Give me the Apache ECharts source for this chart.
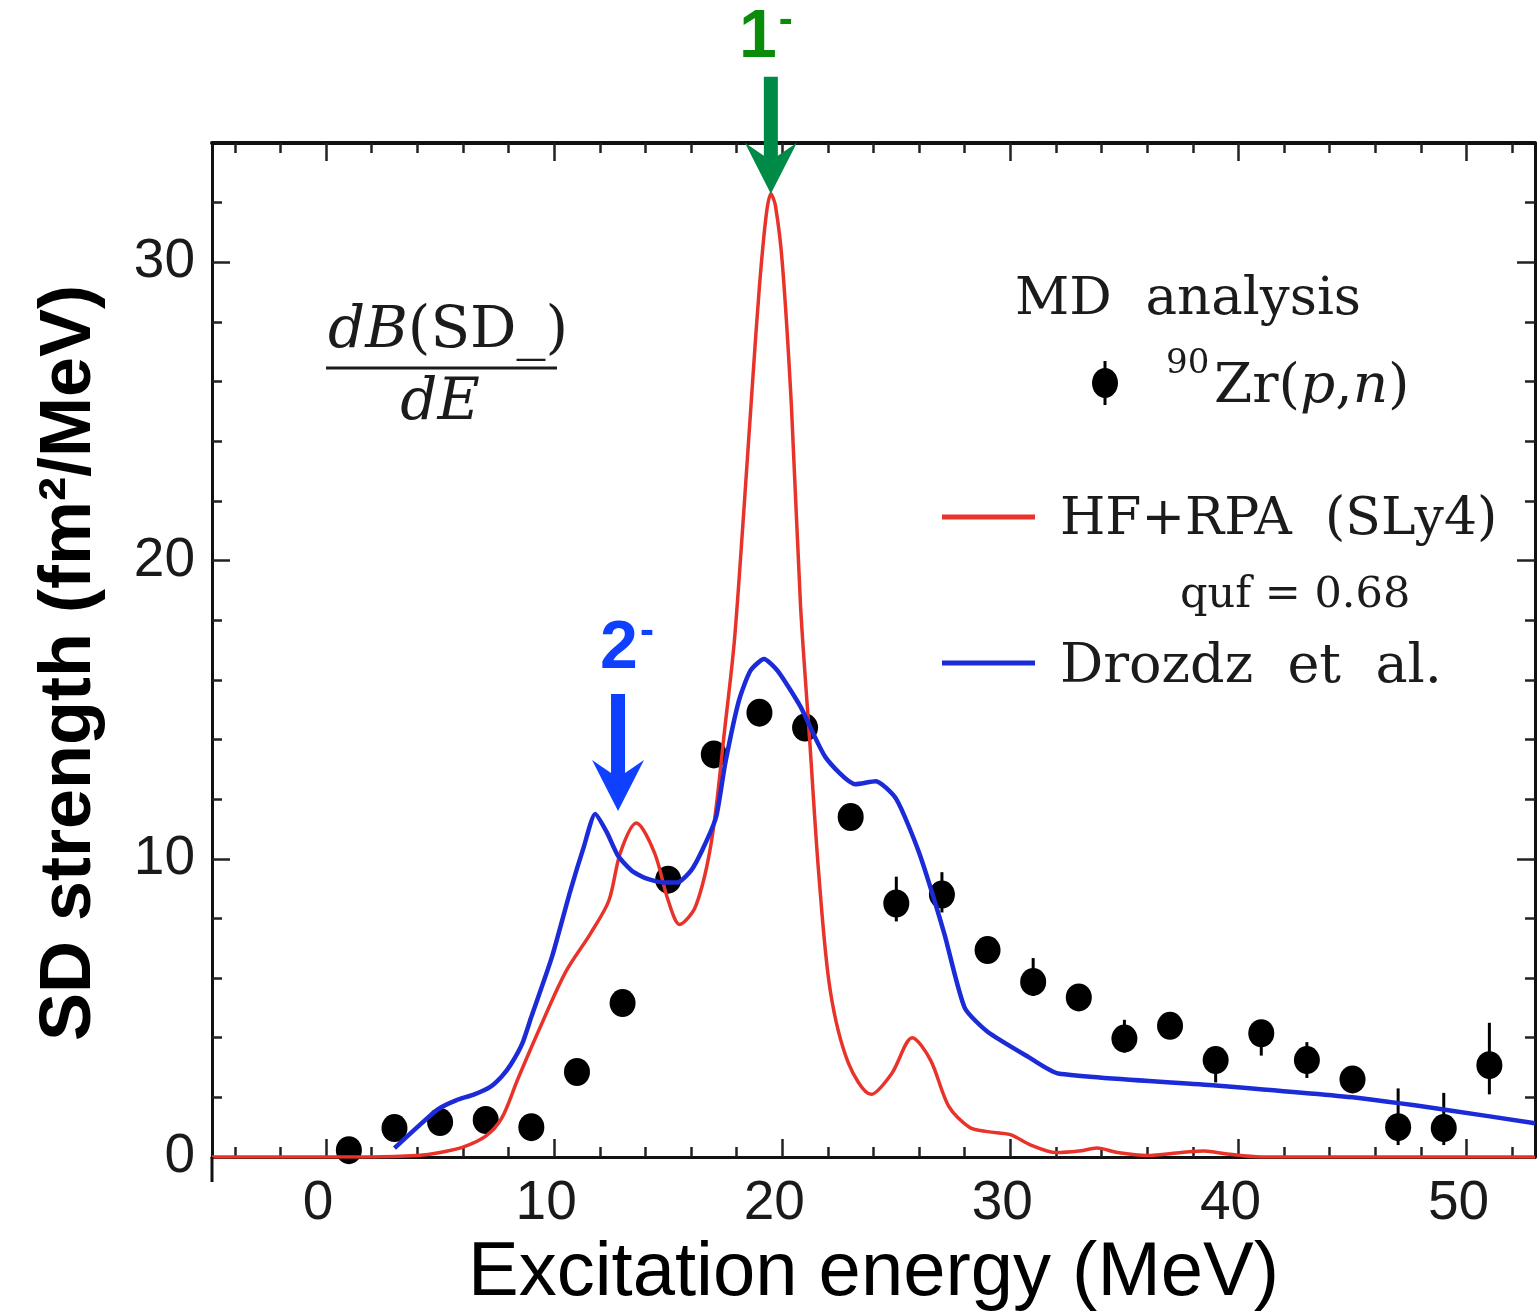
<!DOCTYPE html>
<html>
<head>
<meta charset="utf-8">
<title>Spin-dipole strength of 90Zr(p,n)</title>
<script src="https://cdn.jsdelivr.net/npm/echarts@6/dist/echarts.min.js"></script>
<style>
  html, body { margin: 0; padding: 0; background: #ffffff; }
  #chart { width: 1537px; height: 1312px; }
</style>
</head>
<body>
<div id="chart"></div>
<script>
// ---- Experimental 90Zr(p,n) multipole-decomposition points ----
const expEnergy   = [1, 3, 5, 7, 9, 11, 13, 15, 17, 19, 21, 23, 25, 27, 29, 31, 33, 35, 37, 39, 41, 43, 45, 47, 49, 51];
const expStrength = [0.23, 0.97, 1.17, 1.24, 1.0, 2.85, 5.16, 9.3, 13.5, 14.9, 14.4, 11.4, 8.5, 8.8, 6.94, 5.87, 5.35, 3.97, 4.4, 3.25, 4.15, 3.25, 2.6, 1.0, 0.97, 3.08];
const expErrLow   = [0.05, 0.7, 0.9, 1.0, 0.75, 2.6, 4.9, 9.0, 13.2, 14.6, 14.1, 11.1, 7.9, 8.2, 6.6, 5.4, 5.0, 3.5, 4.0, 2.5, 3.4, 2.65, 2.25, 0.4, 0.4, 2.1];
const expErrHigh  = [0.4, 1.2, 1.4, 1.5, 1.25, 3.1, 5.4, 9.6, 13.8, 15.2, 14.7, 11.7, 9.4, 9.55, 7.3, 6.67, 5.7, 4.6, 4.8, 3.6, 4.5, 3.85, 2.95, 2.3, 2.15, 4.5];

// ---- HF+RPA (SLy4) strength, quenched with quf = 0.68 ----
const rpaEnergy   = [-5, 2, 4, 5, 6, 7, 7.7, 8.4, 9.3, 10.5, 11.6, 12.4, 12.9, 13.6, 14.4, 15.0, 15.5, 16.2, 16.9, 17.5, 17.9, 18.3, 18.7, 19.0, 19.3, 19.5, 19.7, 20.0, 20.4, 20.8, 21.2, 21.6, 22.1, 22.9, 23.9, 24.8, 25.7, 26.5, 27.3, 28.2, 29.0, 30.0, 30.9, 32.0, 33.0, 33.8, 34.7, 36.0, 37.5, 38.5, 39.5, 41, 53];
const rpaStrength = [0, 0, 0.05, 0.15, 0.33, 0.7, 1.3, 2.6, 4.2, 6.2, 7.5, 8.6, 10.2, 11.2, 10.2, 8.6, 7.8, 8.4, 10.6, 14.5, 17.3, 21.5, 26.0, 29.2, 31.6, 32.3, 31.9, 30.0, 25.2, 18.5, 14.0, 9.5, 5.6, 3.15, 2.1, 2.8, 4.0, 3.25, 1.7, 1.0, 0.85, 0.75, 0.4, 0.15, 0.2, 0.3, 0.15, 0.05, 0.15, 0.2, 0.1, 0, 0];

// ---- Drozdz et al. strength ----
const drozdzEnergy   = [3.0, 4.0, 4.9, 5.7, 6.5, 7.2, 7.7, 8.1, 8.6, 9.0, 9.9, 10.7, 11.3, 11.8, 12.3, 12.8, 13.4, 14.0, 14.8, 15.4, 16.0, 16.5, 17.1, 17.5, 18.1, 18.6, 19.2, 19.8, 20.8, 21.9, 23.2, 24.1, 25.0, 26.0, 27.1, 28.0, 29.0, 30.8, 32.1, 39.0, 45.0, 49.2, 53.0];
const drozdzStrength = [0.3, 1.0, 1.6, 1.9, 2.1, 2.35, 2.7, 3.1, 3.8, 4.7, 6.7, 8.9, 10.4, 11.5, 10.9, 10.1, 9.6, 9.35, 9.2, 9.2, 9.6, 10.3, 11.4, 13.2, 15.3, 16.3, 16.7, 16.3, 15.1, 13.4, 12.5, 12.6, 12.0, 10.2, 7.5, 5.0, 4.2, 3.35, 2.8, 2.4, 2.0, 1.57, 1.13];

// ---- Axis ticks ----
const xMajorTicks = [0, 10, 20, 30, 40, 50];
const xMinorTicks = [-4, -2, 2, 4, 6, 8, 12, 14, 16, 18, 22, 24, 26, 28, 32, 34, 36, 38, 42, 44, 46, 48, 52];
const yMajorTicks = [0, 10, 20, 30];
const yMinorTicks = [2, 4, 6, 8, 12, 14, 16, 18, 22, 24, 26, 28, 32];

// ---- Multipole peak markers: J-pi label, energy (MeV), strength at arrow tip ----
const peakLabels   = ['1', '2'];
const peakEnergy   = [19.5, 12.8];
const peakStrength = [32.3, 11.6];

const X_MIN = -5, X_MAX = 53, Y_MIN = 0, Y_MAX = 34;

const INK = '#1b1b1b';
const RED = '#e8332a';
const BLUE = '#1c2bd8';
const peakTextColors  = ['#0a8c0a', '#1040ff'];
const peakArrowColors = ['#008a48', '#1040ff'];

const serif = 'DejaVu Serif';
const sans = 'Liberation Sans';

function xAxisDef(position, ticks, tickLen, lineWidth, withLabels) {
  return {
    type: 'value', position: position, min: X_MIN, max: X_MAX,
    axisLine: { show: true, onZero: false, lineStyle: { color: '#111', width: lineWidth, opacity: lineWidth > 0 ? 1 : 0 } },
    axisTick: { show: true, inside: true, length: tickLen, customValues: ticks, lineStyle: { color: '#222', width: 2.5 } },
    axisLabel: withLabels
      ? { show: true, customValues: ticks, margin: 19, padding: [0, 16, 0, 0], fontFamily: sans, fontSize: 55, color: '#1a1a1a' }
      : { show: false },
    splitLine: { show: false }, minorTick: { show: false }
  };
}
function yAxisDef(position, ticks, tickLen, lineWidth, withLabels) {
  return {
    type: 'value', position: position, min: Y_MIN, max: Y_MAX,
    axisLine: { show: true, onZero: false, lineStyle: { color: '#111', width: lineWidth, opacity: lineWidth > 0 ? 1 : 0 } },
    axisTick: { show: true, inside: true, length: tickLen, customValues: ticks, lineStyle: { color: '#222', width: 2.5 } },
    axisLabel: withLabels
      ? { show: true, customValues: ticks, margin: 17, fontFamily: sans, fontSize: 55, color: '#1a1a1a' }
      : { show: false },
    splitLine: { show: false }, minorTick: { show: false }
  };
}

const xBottom = xAxisDef('bottom', xMajorTicks, 18, 3, true);
xBottom.name = 'Excitation energy (MeV)';
xBottom.nameLocation = 'middle';
xBottom.nameGap = 78;
xBottom.nameTextStyle = { fontFamily: sans, fontSize: 76, color: '#000' };

const yLeft = yAxisDef('left', yMajorTicks, 18, 3, true);
yLeft.name = 'SD strength (fm\u00B2/MeV)';
yLeft.nameLocation = 'middle';
yLeft.nameGap = 106;
yLeft.nameTextStyle = { fontFamily: sans, fontSize: 72, fontWeight: 'bold', color: '#000', padding: [0, 26, 0, 0] };

const option = {
  animation: false,
  backgroundColor: '#ffffff',
  grid: { left: 212, top: 143, width: 1323, height: 1014, containLabel: false, outerBoundsMode: 'none' },
  xAxis: [
    xBottom,
    xAxisDef('bottom', xMinorTicks, 10, 0, false),
    xAxisDef('top', xMajorTicks, 18, 4, false),
    xAxisDef('top', xMinorTicks, 10, 0, false)
  ],
  yAxis: [
    yLeft,
    yAxisDef('left', yMinorTicks, 10, 0, false),
    yAxisDef('right', yMajorTicks, 18, 3, false),
    yAxisDef('right', yMinorTicks, 10, 0, false)
  ],
  series: [
    {
      name: 'errors', type: 'custom', xAxisIndex: 0, yAxisIndex: 0, z: 3,
      data: expEnergy.map((e, i) => [e, expErrLow[i], expErrHigh[i]]),
      encode: { x: 0, y: [1, 2] },
      renderItem: function (params, api) {
        const lo = api.coord([api.value(0), api.value(1)]);
        const hi = api.coord([api.value(0), api.value(2)]);
        return { type: 'line', shape: { x1: lo[0], y1: lo[1], x2: hi[0], y2: hi[1] },
                 style: { stroke: '#000', lineWidth: 3 } };
      }
    },
    {
      name: '90Zr(p,n)', type: 'scatter', xAxisIndex: 0, yAxisIndex: 0, z: 4,
      symbol: 'circle', symbolSize: [26, 28],
      itemStyle: { color: '#000', opacity: 1 },
      data: expEnergy.map((e, i) => [e, expStrength[i]])
    },
    {
      name: 'HF+RPA (SLy4)', type: 'line', xAxisIndex: 0, yAxisIndex: 0, z: 5,
      smooth: 0.3, showSymbol: false, symbol: 'none',
      lineStyle: { color: RED, width: 3.5 },
      data: rpaEnergy.map((e, i) => [e, rpaStrength[i]])
    },
    {
      name: 'Drozdz et al.', type: 'line', xAxisIndex: 0, yAxisIndex: 0, z: 6,
      smooth: 0.2, showSymbol: false, symbol: 'none',
      lineStyle: { color: BLUE, width: 4.5 },
      data: drozdzEnergy.map((e, i) => [e, drozdzStrength[i]])
    }
  ]
};

const chart = echarts.init(document.getElementById('chart'), null, { renderer: 'canvas' });
chart.setOption(option);

// Arrow pointing down with its tip at (tx, ty)
function arrowPoints(tx, ty, headHalf, headLen, notch, shaftHalf, total) {
  return [[tx, ty], [tx + headHalf, ty - headLen], [tx + shaftHalf, ty - notch],
          [tx + shaftHalf, ty - total], [tx - shaftHalf, ty - total],
          [tx - shaftHalf, ty - notch], [tx - headHalf, ty - headLen]];
}

const graphics = [];

// Left frame runs a little below the zero line
const origin = chart.convertToPixel({ xAxisIndex: 0, yAxisIndex: 0 }, [X_MIN, Y_MIN]);
graphics.push({ type: 'line', z: 40, shape: { x1: origin[0], y1: origin[1], x2: origin[0], y2: origin[1] + 25 },
                style: { stroke: '#111', lineWidth: 3 } });

// Peak markers 1- and 2-
const labelDx = [-13, 1];
const labelDy = [-155, -162];
peakLabels.forEach(function (lab, i) {
  const p = chart.convertToPixel({ xAxisIndex: 0, yAxisIndex: 0 }, [peakEnergy[i], peakStrength[i]]);
  graphics.push({
    type: 'polygon', z: 100,
    shape: { points: arrowPoints(p[0], p[1], 26, 51, 38, 7, 117) },
    style: { fill: peakArrowColors[i] }
  });
  graphics.push({
    type: 'text', z: 100,
    style: { text: lab, x: p[0] + labelDx[i], y: p[1] + labelDy[i], textAlign: 'center', textVerticalAlign: 'middle',
             fontFamily: sans, fontWeight: 'bold', fontSize: 68, fill: peakTextColors[i] }
  });
  graphics.push({
    type: 'text', z: 100,
    style: { text: '-', x: p[0] + labelDx[i] + 21, y: p[1] + labelDy[i] - 17, textAlign: 'left', textVerticalAlign: 'middle',
             fontFamily: sans, fontWeight: 'bold', fontSize: 42, fill: peakTextColors[i] }
  });
});

// dB(SD_)/dE fraction
const fracRich = {
  i: { fontFamily: serif, fontStyle: 'italic', fontSize: 58, fill: INK },
  n: { fontFamily: serif, fontSize: 58, fill: INK }
};
graphics.push({ type: 'text', z: 50,
  style: { text: '{i|dB}{n|(SD_)}', rich: fracRich, x: 328, y: 332, textAlign: 'left', textVerticalAlign: 'middle' } });
graphics.push({ type: 'line', z: 50, shape: { x1: 326, y1: 368, x2: 557, y2: 368 }, style: { stroke: INK, lineWidth: 3 } });
graphics.push({ type: 'text', z: 50,
  style: { text: '{i|dE}', rich: fracRich, x: 440, y: 404, textAlign: 'center', textVerticalAlign: 'middle' } });

// Legend block
graphics.push({ type: 'text', z: 50,
  style: { text: 'MD  analysis', x: 1015, y: 300, textAlign: 'left', textVerticalAlign: 'middle',
           fontFamily: serif, fontSize: 53, fill: INK } });
graphics.push({ type: 'line', z: 50, shape: { x1: 1105, y1: 361, x2: 1105, y2: 405 }, style: { stroke: '#000', lineWidth: 3 } });
graphics.push({ type: 'ellipse', z: 51, shape: { cx: 1105, cy: 383, rx: 13, ry: 15 }, style: { fill: '#000' } });
graphics.push({ type: 'text', z: 50,
  style: { text: '90', x: 1166, y: 364, textAlign: 'left', textVerticalAlign: 'middle',
           fontFamily: serif, fontSize: 34, fill: INK } });
graphics.push({ type: 'text', z: 50,
  style: { text: '{n|Zr(}{i|p}{n|,}{i|n}{n|)}', x: 1214, y: 388, textAlign: 'left', textVerticalAlign: 'middle',
           rich: { i: { fontFamily: serif, fontStyle: 'italic', fontSize: 55, fill: INK },
                   n: { fontFamily: serif, fontSize: 55, fill: INK } } } });

graphics.push({ type: 'line', z: 50, shape: { x1: 942, y1: 517, x2: 1035, y2: 517 }, style: { stroke: RED, lineWidth: 5 } });
graphics.push({ type: 'text', z: 50,
  style: { text: 'HF+RPA  (SLy4)', x: 1060, y: 520, textAlign: 'left', textVerticalAlign: 'middle',
           fontFamily: serif, fontSize: 52, fill: INK } });
graphics.push({ type: 'text', z: 50,
  style: { text: 'quf = 0.68', x: 1180, y: 596, textAlign: 'left', textVerticalAlign: 'middle',
           fontFamily: serif, fontSize: 43, fill: INK } });
graphics.push({ type: 'line', z: 50, shape: { x1: 942, y1: 663, x2: 1035, y2: 663 }, style: { stroke: BLUE, lineWidth: 5 } });
graphics.push({ type: 'text', z: 50,
  style: { text: 'Drozdz  et  al.', x: 1060, y: 668, textAlign: 'left', textVerticalAlign: 'middle',
           fontFamily: serif, fontSize: 54, fill: INK } });

chart.setOption({ graphic: { elements: graphics } });
</script>
</body>
</html>
